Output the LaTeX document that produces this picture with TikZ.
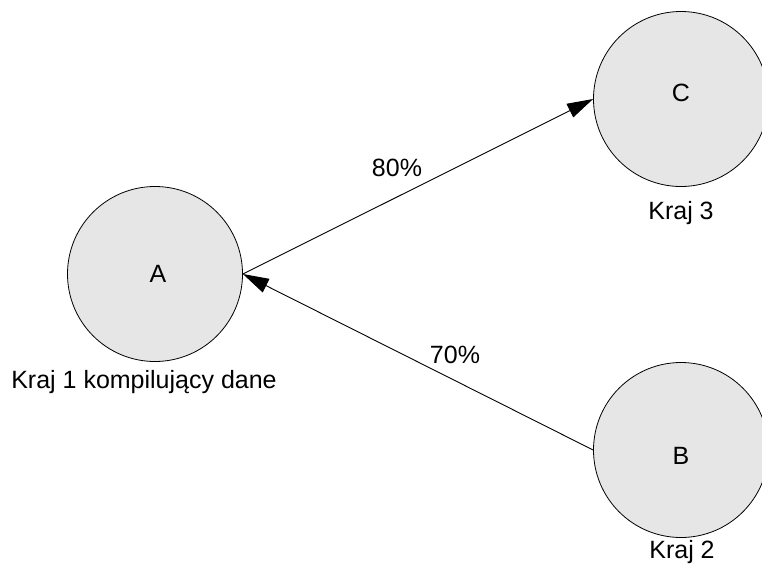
\documentclass[tikz,border=0pt]{standalone}
\usepackage{fontspec}
\setmainfont{Liberation Sans}
\usetikzlibrary{arrows.meta}
\definecolor{nodefill}{HTML}{E6E6E6}
\begin{document}
\begin{tikzpicture}[x=1pt,y=-1pt,
  country/.style={circle,draw=black,line width=0.8pt,fill=nodefill,minimum size=175pt,inner sep=0pt},
  caption/.style={inner sep=0pt,font=\fontsize{25}{30}\selectfont},
  flow/.style={line width=0.9pt,-{Triangle[length=26pt,width=15pt]}}]
  \useasboundingbox (0,0) rectangle (762,565);
  \clip (0,0) rectangle (762,565);
  % countries
  \node[country] (A) at (155,274) {};
  \node[country] (C) at (681,99) {};
  \node[country] (B) at (681,450) {};
  \node[caption] (Alab) at (158,274) {A};
  \node[caption] (Clab) at (681,93) {C};
  \node[caption] (Blab) at (681,456) {B};
  % captions under the circles
  \node[caption] (Acap) at (144,382) {Kraj 1 kompilujący dane};
  \node[caption] (Ccap) at (681,213) {Kraj 3};
  \node[caption] (Bcap) at (682,552) {Kraj 2};
  % flows
  \draw[flow] (A.east) -- (C.west);
  \draw[flow] (B.west) -- (A.east);
  \node[caption] (p80) at (397,168) {80\%};
  \node[caption] (p70) at (455,355) {70\%};
\end{tikzpicture}
\end{document}
